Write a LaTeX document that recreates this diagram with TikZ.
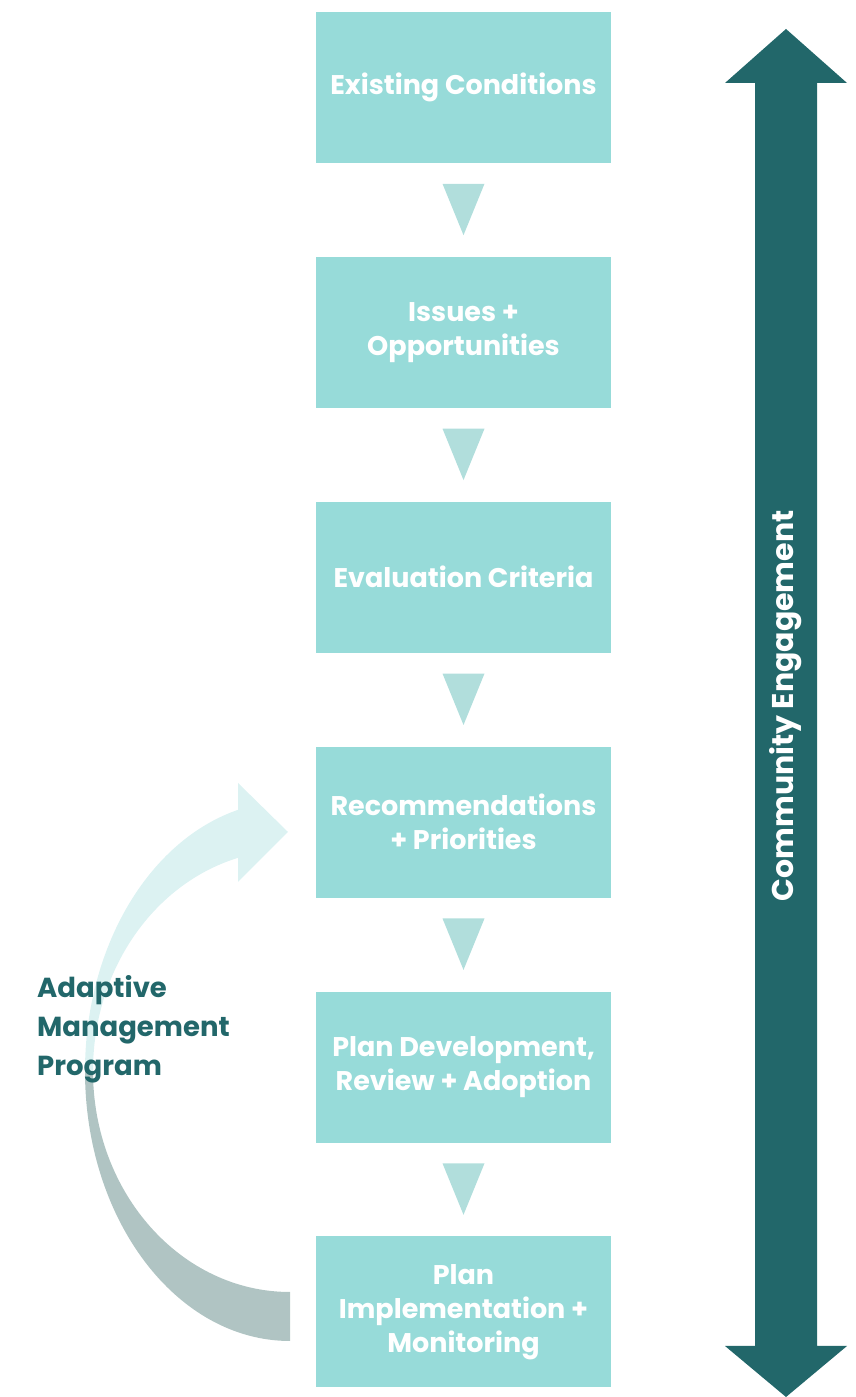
\documentclass[tikz,border=0pt]{standalone}
\usepackage{fontspec}
\setmainfont{Poppins}
\usetikzlibrary{positioning,calc}
\definecolor{stagefill}{HTML}{97DBD9}
\definecolor{tripfill}{HTML}{B1DEDC}
\definecolor{darkteal}{HTML}{22676A}
\definecolor{loopup}{HTML}{DCF2F2}
\definecolor{loopdown}{HTML}{B0C4C3}
\begin{document}
\begin{tikzpicture}[x=1pt,y=1pt,node distance=93.5pt]
        \tikzstyle{stage}=[fill=stagefill, text=white, font=\bfseries\fontsize{27}{34}\selectfont, minimum width=295pt, minimum height=151pt, inner sep=0pt, align=center];
        \tikzstyle{tripoint}=[fill=tripfill];
        \tikzstyle{amp}=[text=darkteal, font=\bfseries\fontsize{27.5}{39}\selectfont, inner sep=0pt, align=left];
        \useasboundingbox (0,0) rectangle (856,1397);
        \coordinate (c) at (290,326);
        \fill[loopup] ($(c)+(104.7:205 and 270)$) arc[start angle=104.7, end angle=180, x radius=205, y radius=270]
            -- ($(c)+(180:197 and 221)$) arc[start angle=180, end angle=105.3, x radius=197, y radius=221] -- cycle;
        \fill[loopup] (238,614) -- (288,565) -- (238,515) -- cycle;
        \fill[loopdown] ($(c)+(180:205 and 270)$) arc[start angle=180, end angle=270, x radius=205, y radius=270]
            -- ($(c)+(270:197 and 221)$) arc[start angle=270, end angle=180, x radius=197, y radius=221] -- cycle;
        \node[amp, anchor=west] (amp) at (37,368) {Adaptive\\Management\\Program};
        \node[stage] (ec) at (463.5,1309.5) {Existing Conditions};
        \node[stage, below=of ec] (io) {Issues +\\Opportunities};
        \node[stage, below=of io] (evc) {Evaluation Criteria};
        \node[stage, below=of evc] (rp) {Recommendations\\+ Priorities};
        \node[stage, below=of rp] (pd) {Plan Development,\\Review + Adoption};
        \node[stage, below=of pd] (pim) {Plan\\Implementation +\\Monitoring};
        \fill[tripoint] ($(ec.south)!.22!(io.north)$) +(-21,0) -- +(21,0) -- ($(ec.south)!.77!(io.north)$) -- cycle;
        \fill[tripoint] ($(io.south)!.22!(evc.north)$) +(-21,0) -- +(21,0) -- ($(io.south)!.77!(evc.north)$) -- cycle;
        \fill[tripoint] ($(evc.south)!.22!(rp.north)$) +(-21,0) -- +(21,0) -- ($(evc.south)!.77!(rp.north)$) -- cycle;
        \fill[tripoint] ($(rp.south)!.22!(pd.north)$) +(-21,0) -- +(21,0) -- ($(rp.south)!.77!(pd.north)$) -- cycle;
        \fill[tripoint] ($(pd.south)!.22!(pim.north)$) +(-21,0) -- +(21,0) -- ($(pd.south)!.77!(pim.north)$) -- cycle;
        \fill[darkteal] (786,1368) -- (847,1314) -- (817,1314) -- (817,51) -- (847,51) -- (786,0)
            -- (725,51) -- (755,51) -- (755,1314) -- (725,1314) -- cycle;
        \node[text=white, font=\bfseries\fontsize{30}{36}\selectfont, rotate=90, inner sep=0pt] (ce) at (786,691) {Community Engagement};
\end{tikzpicture}
\end{document}
